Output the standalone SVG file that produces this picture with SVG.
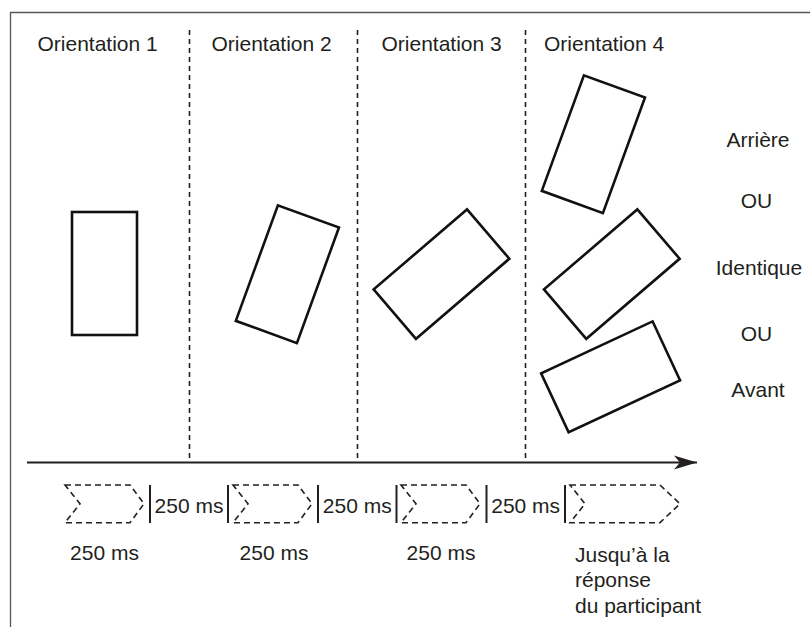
<svg xmlns="http://www.w3.org/2000/svg" width="810" height="627" viewBox="0 0 810 627">
  <style>
    text { font-family: "Liberation Sans", Arial, sans-serif; font-size: 21px; fill: #231f20; }
    .mid { text-anchor: middle; }
    .frame { stroke: #555; stroke-width: 1.3; fill: none; }
    .sep { stroke: #231f20; stroke-width: 1.6; stroke-dasharray: 5 4; fill: none; }
    .stim { stroke: #111; stroke-width: 2.6; fill: none; }
    .axis { stroke: #231f20; stroke-width: 2; fill: none; }
    .phase { stroke: #231f20; stroke-width: 1.6; stroke-dasharray: 6 4; fill: none; }
    .bar { stroke: #231f20; stroke-width: 2; }
  </style>
  <defs>
    <marker id="head" viewBox="0 0 24 16" refX="23" refY="8" markerWidth="24" markerHeight="16" markerUnits="userSpaceOnUse" orient="auto">
      <path d="M0,1 L23,8 L0,15 L6,8 Z" fill="#231f20"/>
    </marker>
    <rect id="card" x="-32.5" y="-61.5" width="65" height="123"/>
  </defs>

  <!-- frame -->
  <path class="frame" d="M810,12.5 H10.5 V627"/>

  <!-- column headers -->
  <g id="headers">
    <text x="37.5" y="51">Orientation 1</text>
    <text x="211.5" y="51">Orientation 2</text>
    <text x="381.5" y="51">Orientation 3</text>
    <text x="544" y="51">Orientation 4</text>
  </g>

  <!-- column separators -->
  <g id="separators">
    <line class="sep" x1="189.5" y1="30" x2="189.5" y2="462"/>
    <line class="sep" x1="357.5" y1="30" x2="357.5" y2="462"/>
    <line class="sep" x1="525.5" y1="30" x2="525.5" y2="462"/>
  </g>

  <!-- stimuli -->
  <g id="stim1"><use href="#card" class="stim" transform="translate(104.5,273.5)"/></g>
  <g id="stim2"><use href="#card" class="stim" transform="translate(287.4,274.2) rotate(20)"/></g>
  <g id="stim3"><use href="#card" class="stim" transform="translate(441.5,274.1) rotate(49.4)"/></g>
  <g id="stim4a"><use href="#card" class="stim" transform="translate(593.4,144.2) rotate(20)"/></g>
  <g id="stim4b"><use href="#card" class="stim" transform="translate(611.8,274.1) rotate(49.4)"/></g>
  <g id="stim4c"><use href="#card" class="stim" transform="translate(610.6,376.8) rotate(65)"/></g>

  <!-- response options -->
  <g id="options">
    <text class="mid" x="758" y="147">Arrière</text>
    <text class="mid" x="756.5" y="208">OU</text>
    <text class="mid" x="759" y="275">Identique</text>
    <text class="mid" x="756.5" y="341">OU</text>
    <text class="mid" x="758" y="397">Avant</text>
  </g>

  <!-- time axis -->
  <g id="connectors">
    <line class="axis" x1="27" y1="462.5" x2="697" y2="462.5" marker-end="url(#head)"/>
  </g>

  <!-- phase chevrons -->
  <g id="phases">
    <path class="phase" d="M65,485 H130 L144,503.8 L130,522.7 H65 L80,503.8 Z"/>
    <path class="phase" d="M233,485 H298 L312,503.8 L298,522.7 H233 L248,503.8 Z"/>
    <path class="phase" d="M401,485 H466 L480,503.8 L466,522.7 H401 L416,503.8 Z"/>
    <path class="phase" d="M570,485 H660 L680,503.8 L660,522.7 H570 L585,503.8 Z"/>
  </g>

  <!-- inter-stimulus intervals -->
  <g id="intervals">
    <line class="bar" x1="150" y1="485" x2="150" y2="523"/>
    <line class="bar" x1="228" y1="485" x2="228" y2="523"/>
    <line class="bar" x1="318" y1="485" x2="318" y2="523"/>
    <line class="bar" x1="396.5" y1="485" x2="396.5" y2="523"/>
    <line class="bar" x1="486.5" y1="485" x2="486.5" y2="523"/>
    <line class="bar" x1="565" y1="485" x2="565" y2="523"/>
    <text class="mid" x="189" y="512.5">250 ms</text>
    <text class="mid" x="357.3" y="512.5">250 ms</text>
    <text class="mid" x="525.7" y="512.5">250 ms</text>
  </g>

  <!-- phase durations -->
  <g id="durations">
    <text class="mid" x="104.5" y="560">250 ms</text>
    <text class="mid" x="274" y="560">250 ms</text>
    <text class="mid" x="441" y="560">250 ms</text>
    <text x="575" y="561.5">Jusqu’à la</text>
    <text x="575" y="587">réponse</text>
    <text x="575" y="612.5">du participant</text>
  </g>
</svg>
